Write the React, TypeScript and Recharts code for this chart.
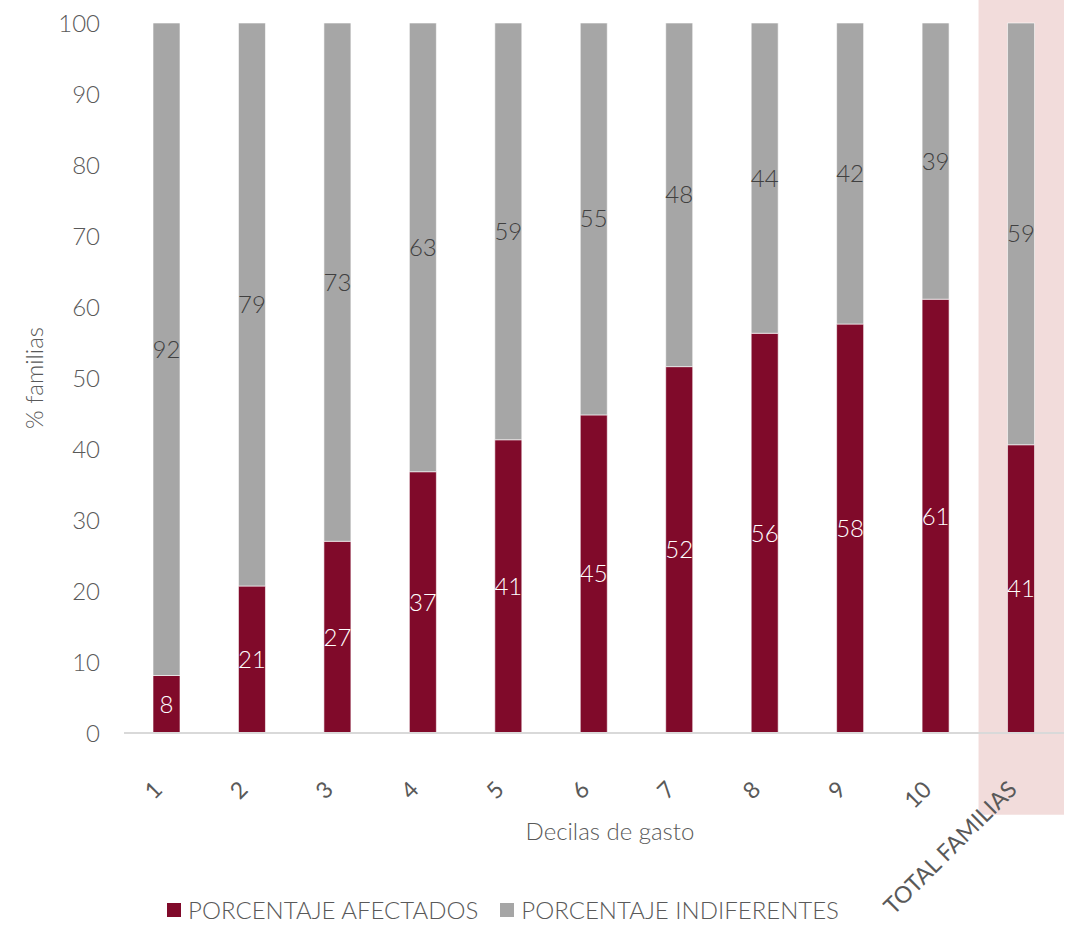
import { Bar, BarChart, LabelList, Legend, ReferenceArea, XAxis, YAxis } from "recharts";

const deciles = ["1", "2", "3", "4", "5", "6", "7", "8", "9", "10", "TOTAL FAMILIAS"];
const afectados = [8.1, 20.7, 27.0, 36.8, 41.3, 44.8, 51.6, 56.3, 57.6, 61.1, 40.6];
const indiferentes = [91.9, 79.3, 73.0, 63.2, 58.7, 55.2, 48.4, 43.7, 42.4, 38.9, 59.4];
const yTicks = [0, 10, 20, 30, 40, 50, 60, 70, 80, 90, 100];

const data = deciles.map((label, i) => ({
  label,
  afectados: afectados[i],
  indiferentes: indiferentes[i]
}));

const RED = "#800a2a";
const GREY = "#a6a6a6";
const TEXT = "#595959";
const FONT = "Lato, 'Open Sans', sans-serif";

function XTick({ x, y, payload }: any) {
  const tx = x - 3;
  const ty = y + 50;
  return (
    <text
      x={tx}
      y={ty}
      transform={`rotate(-45 ${tx} ${ty})`}
      textAnchor="end"
      fill={TEXT}
      fontSize={23}
      fontFamily={FONT}
      fontWeight={400}
    >
      {payload.value}
    </text>
  );
}

function YLabel({ viewBox }: any) {
  const cx = 33;
  const cy = viewBox.y + viewBox.height / 2;
  return (
    <text
      x={cx}
      y={cy}
      transform={`rotate(-90 ${cx} ${cy})`}
      textAnchor="middle"
      dominantBaseline="central"
      fill={TEXT}
      fontSize={24}
      fontFamily={FONT}
      fontWeight={300}
    >
      % familias
    </text>
  );
}

function LegendBox() {
  const items = [
    { name: "PORCENTAJE AFECTADOS", color: RED },
    { name: "PORCENTAJE INDIFERENTES", color: GREY }
  ];
  return (
    <div
      style={{
        display: "flex",
        justifyContent: "center",
        gap: 22,
        paddingRight: 58,
        paddingTop: 6,
        lineHeight: "28px",
        fontFamily: FONT,
        fontWeight: 300
      }}
    >
      {items.map((it) => (
        <span key={it.name} style={{ display: "flex", alignItems: "center", gap: 7, fontSize: 24, color: TEXT }}>
          <span style={{ width: 14, height: 14, background: it.color, display: "inline-block" }} />
          {it.name}
        </span>
      ))}
    </div>
  );
}

export default function App() {
  return (
    <div style={{ position: "absolute", left: 0, top: 0, background: "#fff" }}>
      <BarChart width={1069} height={926} data={data} margin={{ top: 23, right: 5, left: 0, bottom: 0 }} barSize={27}>
        <ReferenceArea
          x1="TOTAL FAMILIAS"
          x2="TOTAL FAMILIAS"
          y1={-11.5}
          y2={103.3}
          ifOverflow="visible"
          fill="#f2dcdb"
          fillOpacity={1}
          stroke="none"
        />
        <XAxis
          dataKey="label"
          height={157}
          interval={0}
          tickLine={false}
          axisLine={{ stroke: "#d9d9d9", strokeWidth: 2 }}
          tick={<XTick />}
          label={{
            value: "Decilas de gasto",
            position: "insideTop",
            offset: 90,
            dx: 16,
            fill: TEXT,
            fontSize: 24,
            fontFamily: FONT,
            fontWeight: 300
          }}
        />
        <YAxis
          width={124}
          domain={[0, 100]}
          ticks={yTicks}
          tickLine={false}
          axisLine={false}
          tickMargin={18}
          tick={{ fill: TEXT, fontSize: 24, fontFamily: FONT, fontWeight: 300 }}
          label={<YLabel />}
        />
        <Legend verticalAlign="bottom" height={36} content={<LegendBox />} />
        <Bar dataKey="afectados" stackId="a" fill={RED} stroke="#ffffff" strokeWidth={0.6} isAnimationActive={false}>
          <LabelList
            dataKey="afectados"
            position="center"
            formatter={(v: any) => Math.round(Number(v))}
            fill="#ffffff"
            fontSize={24}
            fontFamily={FONT}
            fontWeight={300}
          />
        </Bar>
        <Bar dataKey="indiferentes" stackId="a" fill={GREY} stroke="#ffffff" strokeWidth={0.6} isAnimationActive={false}>
          <LabelList
            dataKey="indiferentes"
            position="center"
            formatter={(v: any) => Math.round(Number(v))}
            fill="#404040"
            fontSize={24}
            fontFamily={FONT}
            fontWeight={300}
          />
        </Bar>
      </BarChart>
    </div>
  );
}
